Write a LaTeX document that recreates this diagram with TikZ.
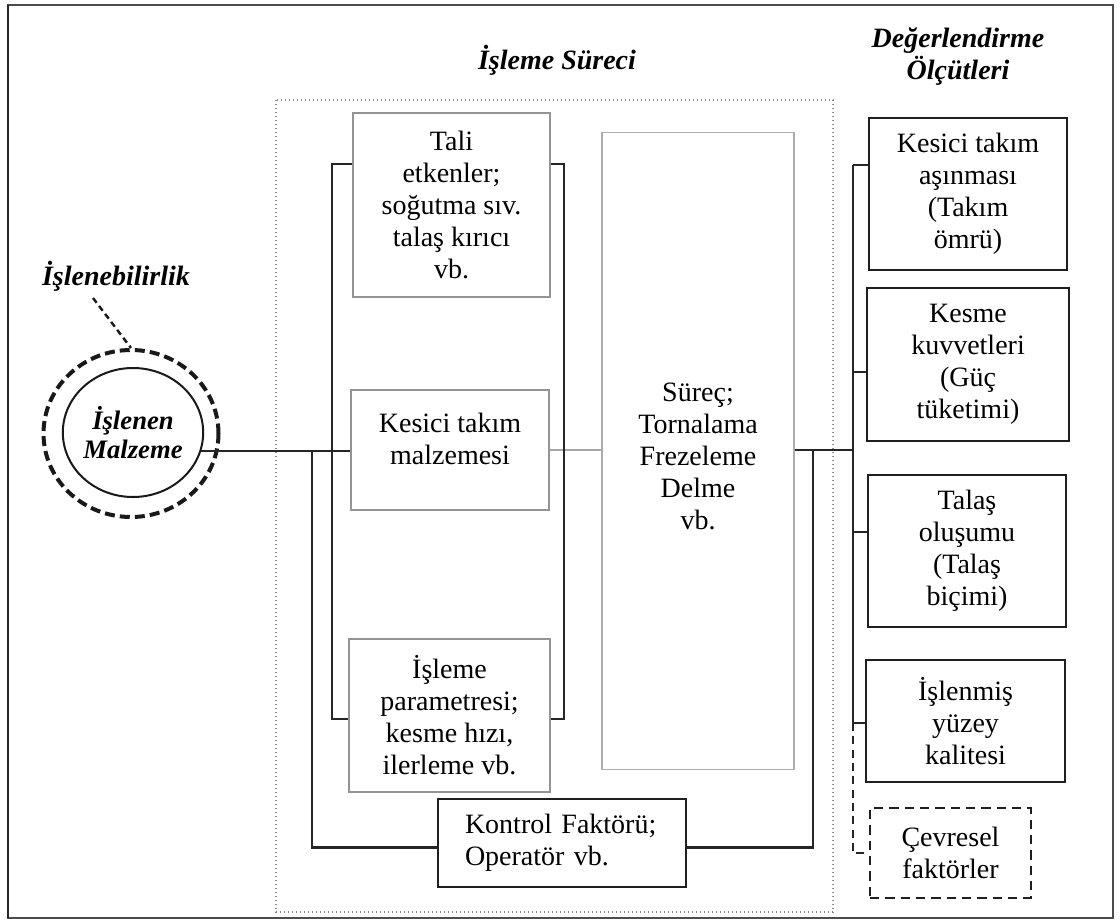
\documentclass[tikz,border=0pt]{standalone}
\usepackage{fontspec}
\setmainfont{Liberation Serif}
\usetikzlibrary{calc,shapes.geometric}
\begin{document}
\begin{tikzpicture}[x=0.75pt,y=-0.75pt,
  txt/.style={font=\fontsize{21}{24}\selectfont, align=center, inner sep=0pt},
  ttl/.style={font=\fontsize{21}{24}\selectfont\bfseries\itshape, align=center, inner sep=0pt},
  sz/.style 2 args={minimum width=#1*0.75pt, minimum height=#2*0.75pt},
  gbox/.style={txt, rectangle, draw=black!42, line width=1.6pt, fill=white},
  sbox/.style={txt, rectangle, draw=black!32, line width=1.1pt, fill=white},
  kbox/.style={txt, rectangle, draw=black!88, line width=1.7pt, fill=white},
  dbox/.style={txt, rectangle, draw=black!88, line width=1.8pt, dash pattern=on 7pt off 4.5pt, fill=white},
  cloop/.style={draw=black!85, line width=2.1pt},
  bus/.style={draw=black!85, line width=1.6pt},
  dbus/.style={draw=black!85, line width=1.6pt, dash pattern=on 6pt off 4pt},
  gline/.style={draw=black!35, line width=1pt},
  leader/.style={draw=black!90, line width=1.8pt, dash pattern=on 4.5pt off 3pt},
  dotbox/.style={draw=black!45, line width=1.1pt, dash pattern=on 0.9pt off 2.1pt}
]
\useasboundingbox (0,0) rectangle (1120,922);
% outer frame
\draw[black!70, line width=1.1pt] (8,5) rectangle (1113,918);
\draw[black!85, line width=2.2pt] (8,5) -- (8,918);
% dotted process frame
\draw[dotbox] (276,100) rectangle (833,912);

% titles
\node[ttl] (t1) at (557,60) {İşleme Süreci};
\node[ttl] (t2) at (958,57) {Değerlendirme\\Ölçütleri};
\node[ttl] (t3) at (116,276) {İşlenebilirlik};

% material circles
\node[ellipse, draw=black!90, line width=3pt, dash pattern=on 7.5pt off 3.8pt, inner sep=0pt, sz={175}{167}] (out) at (131,433.5) {};
\node[ellipse, draw=black!90, line width=1.5pt, inner sep=0pt, sz={140}{129},
      font=\fontsize{20}{22}\selectfont\bfseries\itshape, align=center] (mat) at (133,432.5) {İşlenen\\Malzeme};
\draw[leader] ($(t3.center)+(-23,22)$) -- (out.north);

% bus coordinates
\coordinate (s1) at (853,165);
\coordinate (s2) at (853,372);
\coordinate (s3) at (853,532);
\coordinate (s4) at (853,723);
\coordinate (jl) at (312,450);
\coordinate (jr) at (813,450);

% middle boxes
\node[gbox, sz={197}{184}] (tali) at (451.5,205) {Tali\\etkenler;\\soğutma sıv.\\talaş kırıcı\\vb.};
\node[gbox, sz={198}{120}, label={[txt, yshift=8pt]center:Kesici takım\\malzemesi}] (kes) at (450,450) {};
\node[gbox, sz={201}{153}] (ism) at (449.5,715.5) {İşleme\\parametresi;\\kesme hızı,\\ilerleme vb.};
\node[sbox, sz={192}{637}, label={[txt, yshift=-3.75pt]center:Süreç;\\Tornalama\\Frezeleme\\Delme\\vb.}] (sur) at (698,451) {};
\node[kbox, sz={248}{88}, align=left, text width=194*0.75pt, inner xsep=27*0.75pt] (ktl) at (562,843) {Kontrol Faktörü;\\Operatör vb.};

% right boxes
\node[kbox, sz={198}{152}] (b1) at (968,194) {Kesici takım\\aşınması\\(Takım\\ömrü)};
\node[kbox, sz={202}{153}] (b2) at (968,364.5) {Kesme\\kuvvetleri\\(Güç\\tüketimi)};
\node[kbox, sz={198}{152}] (b3) at (967,551) {Talaş\\oluşumu\\(Talaş\\biçimi)};
\node[kbox, sz={199}{122}] (b4) at (965.5,721) {İşlenmiş\\yüzey\\kalitesi};
\node[dbox, sz={161}{90}] (cev) at (950.5,853) {Çevresel\\faktörler};

% connectors
\draw[bus] (mat.-15) -- (mat.-15 -| kes.west);
\draw[gline] (kes.east) -- (kes.east -| sur.west);
\draw[bus] (kes.east -| sur.east) -- (kes.east -| s1);
% brackets
\draw[cloop] ($(tali.north west)+(0,52)$) -- ++(-20,0) |- ($(ism.north west)+(0,81)$);
\draw[cloop] ($(tali.north east)+(0,52)$) -- ++(13,0) |- ($(ism.north east)+(0,81)$);
% control loop
\draw[cloop] (jl) |- ($(ktl.north west)+(0,50)$);
\draw[cloop] ($(ktl.north east)+(0,50)$) -| (jr);
% evaluation bus
\draw[bus] (s1) -- (s4);
\draw[bus] (s1) -- (s1 -| b1.west);
\draw[bus] (s2) -- (s2 -| b2.west);
\draw[bus] (s3) -- (s3 -| b3.west);
\draw[bus] (s4) -- (s4 -| b4.west);
\draw[dbus] (s4) |- (cev.west);
\end{tikzpicture}
\end{document}
